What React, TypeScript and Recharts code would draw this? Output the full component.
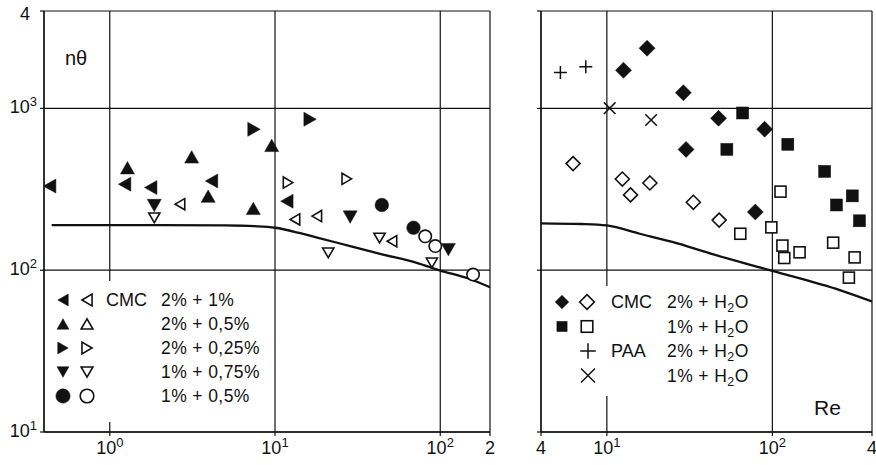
import React from 'react';
import { ScatterChart, Scatter, XAxis, YAxis, CartesianGrid } from 'recharts';

const FONT = '"Liberation Sans", Arial, Helvetica, sans-serif';
const INK = '#111';

// ---------- Left panel data (Re, nθ) ----------
const leftFilledLeft = [{ x: 0.433, y: 331 }, { x: 1.23, y: 340 }, { x: 1.77, y: 324 }, { x: 4.13, y: 356 }, { x: 11.8, y: 267 }];
const leftOpenLeft = [{ x: 2.66, y: 256 }, { x: 13.2, y: 206 }, { x: 17.9, y: 216 }, { x: 51, y: 151 }];
const leftFilledUp = [{ x: 1.28, y: 430 }, { x: 3.13, y: 502 }, { x: 3.94, y: 287 }, { x: 7.39, y: 241 }, { x: 9.55, y: 591 }];
const leftFilledRight = [{ x: 7.46, y: 743 }, { x: 16.3, y: 857 }];
const leftOpenRight = [{ x: 12.0, y: 348 }, { x: 27.2, y: 367 }];
const leftFilledDown = [{ x: 1.86, y: 251 }, { x: 28.5, y: 213 }, { x: 112, y: 134 }];
const leftOpenDown = [{ x: 1.86, y: 211 }, { x: 21, y: 128 }, { x: 42.9, y: 158 }, { x: 89, y: 111 }];
const leftFilledCircle = [{ x: 44.3, y: 253 }, { x: 68.9, y: 183 }];
const leftOpenCircle = [{ x: 81.1, y: 162 }, { x: 93.3, y: 141 }, { x: 158, y: 94 }];
const leftCurve = [
  { x: 0.445, y: 190 }, { x: 2, y: 190 }, { x: 5, y: 189 }, { x: 7.5, y: 187 }, { x: 10, y: 183 },
  { x: 14, y: 170 }, { x: 18, y: 159 }, { x: 28.5, y: 141 }, { x: 45, y: 125 }, { x: 72, y: 111 },
  { x: 100, y: 99.5 }, { x: 145, y: 89.5 }, { x: 200, y: 78.5 },
];

// ---------- Right panel data ----------
const rightFilledDiamond = [{ x: 12.6, y: 1722 }, { x: 17.5, y: 2354 }, { x: 29.0, y: 1250 }, { x: 30.1, y: 558 }, { x: 47.3, y: 869 }, { x: 89.8, y: 744 }, { x: 78.9, y: 229 }];
const rightOpenDiamond = [{ x: 6.25, y: 456 }, { x: 12.4, y: 366 }, { x: 13.9, y: 292 }, { x: 18.2, y: 346 }, { x: 33.3, y: 263 }, { x: 47.7, y: 204 }];
const rightFilledSquare = [{ x: 66.1, y: 937 }, { x: 53.1, y: 558 }, { x: 124, y: 600 }, { x: 207, y: 408 }, { x: 304, y: 288 }, { x: 244, y: 253 }, { x: 336, y: 202 }];
const rightOpenSquare = [{ x: 112, y: 306 }, { x: 98.6, y: 184 }, { x: 64, y: 168 }, { x: 115, y: 142 }, { x: 118, y: 119 }, { x: 146, y: 129 }, { x: 233, y: 148 }, { x: 314, y: 120 }, { x: 290, y: 90 }];
const rightPlus = [{ x: 5.24, y: 1667 }, { x: 7.46, y: 1809 }];
const rightCross = [{ x: 10.4, y: 1003 }, { x: 18.5, y: 848 }];
const rightCurve = [
  { x: 4, y: 195 }, { x: 7, y: 193 }, { x: 10, y: 189 }, { x: 15.8, y: 168 }, { x: 25.2, y: 149 },
  { x: 42, y: 127 }, { x: 100, y: 99 }, { x: 258, y: 75 }, { x: 400, y: 64 },
];

// ---------- Ticks ----------
const yTicks = [10, 100, 1000, 4000];
const yTickLabels = [['10', '1'], ['10', '2'], ['10', '3'], ['4', '']];
const leftXTicks = [1, 10, 100, 200];
const leftXTickLabels = [['10', '0'], ['10', '1'], ['10', '2'], ['2', '']];
const rightXTicks = [4, 10, 100, 400];
const rightXTickLabels = [['4', ''], ['10', '1'], ['10', '2'], ['4', '']];

type Kind = 'left' | 'up' | 'right' | 'down' | 'circle' | 'diamond' | 'square' | 'plus' | 'cross';

function Marker({ cx, cy, kind, filled, scale = 1 }: { cx: number; cy: number; kind: Kind; filled: boolean; scale?: number }) {
  if (cx == null || cy == null || isNaN(cx) || isNaN(cy)) return <g />;
  const fill = filled ? INK : '#fff';
  const sw = 1.6;
  const s = scale;
  if (kind === 'up' || kind === 'down' || kind === 'left' || kind === 'right') {
    const b = (filled ? 7 : 5.6) * s; // half base
    const h = (filled ? 6.2 : 4.8) * s; // half height
    let pts: number[][];
    if (kind === 'up') pts = [[cx, cy - h], [cx - b, cy + h], [cx + b, cy + h]];
    else if (kind === 'down') pts = [[cx, cy + h], [cx - b, cy - h], [cx + b, cy - h]];
    else if (kind === 'left') pts = [[cx - h, cy], [cx + h, cy - b], [cx + h, cy + b]];
    else pts = [[cx + h, cy], [cx - h, cy - b], [cx - h, cy + b]];
    return <polygon points={pts.map((p) => p.join(',')).join(' ')} fill={fill} stroke={INK} strokeWidth={filled ? 0.5 : sw} strokeLinejoin="miter" />;
  }
  if (kind === 'circle') {
    return <circle cx={cx} cy={cy} r={(filled ? 6.8 : 6.2) * s} fill={fill} stroke={INK} strokeWidth={filled ? 0.5 : sw} />;
  }
  if (kind === 'diamond') {
    const d = (filled ? 8 : 7) * s;
    return <polygon points={`${cx},${cy - d} ${cx + d},${cy} ${cx},${cy + d} ${cx - d},${cy}`} fill={fill} stroke={INK} strokeWidth={filled ? 0.5 : sw} />;
  }
  if (kind === 'square') {
    const d = (filled ? 6 : 5.5) * s;
    return <rect x={cx - d} y={cy - d} width={2 * d} height={2 * d} fill={fill} stroke={INK} strokeWidth={filled ? 0.5 : sw} />;
  }
  if (kind === 'plus') {
    const d = 6.5 * s;
    return (
      <g stroke={INK} strokeWidth={1.5}>
        <line x1={cx - d} y1={cy} x2={cx + d} y2={cy} />
        <line x1={cx} y1={cy - d} x2={cx} y2={cy + d} />
      </g>
    );
  }
  const d = 5.8 * s;
  return (
    <g stroke={INK} strokeWidth={1.5}>
      <line x1={cx - d} y1={cy - d} x2={cx + d} y2={cy + d} />
      <line x1={cx - d} y1={cy + d} x2={cx + d} y2={cy - d} />
    </g>
  );
}

const shapeOf = (kind: Kind, filled: boolean) => (p: any) => <Marker cx={p.cx} cy={p.cy} kind={kind} filled={filled} />;

function Label({ x, y, base, exp, anchor }: { x: number; y: number; base: string; exp: string; anchor: 'start' | 'middle' | 'end' }) {
  return (
    <text x={x} y={y} textAnchor={anchor} fontFamily={FONT} fontSize={18} fill={INK}>
      {base}
      {exp ? (
        <tspan dy={-7} fontSize={13}>
          {exp}
        </tspan>
      ) : null}
    </text>
  );
}

const makeXTick = (ticks: number[], labels: string[][]) => (p: any) => {
  const i = ticks.findIndex((t) => Math.abs(t - p.payload.value) < 1e-9 * Math.max(1, t));
  if (i < 0) return <g />;
  return <Label x={p.x} y={p.y + 16} base={labels[i][0]} exp={labels[i][1]} anchor="middle" />;
};

const leftYTick = (p: any) => {
  const i = yTicks.findIndex((t) => Math.abs(t - p.payload.value) < 1e-6 * t);
  if (i < 0) return <g />;
  const [base, exp] = yTickLabels[i];
  const x = exp ? p.x - 1 : p.x - 8;
  const y = exp ? p.y + 5 : p.y + 9;
  return <Label x={x} y={y} base={base} exp={exp} anchor="end" />;
};

const emptyTick = () => <g />;

const axisCommon = {
  tickSize: 4,
  tickLine: { stroke: INK, strokeWidth: 1.2 },
  axisLine: { stroke: INK, strokeWidth: 1.3 },
  interval: 0 as const,
  allowDataOverflow: true,
};

const curveShape = () => <g />;

export default function App() {
  return (
    <div style={{ position: 'absolute', left: 0, top: 0, width: 876, height: 465, background: '#fff', fontFamily: FONT }}>
      <div style={{ position: 'absolute', left: 0, top: 0 }}>
        <ScatterChart width={500} height={465} margin={{ top: 11, right: 10, left: 0, bottom: 0 }}>
          <CartesianGrid stroke={INK} strokeWidth={1.2} />
          <XAxis type="number" dataKey="x" scale="log" domain={[0.4, 200]} ticks={leftXTicks} height={33} tick={makeXTick(leftXTicks, leftXTickLabels)} {...axisCommon} />
          <YAxis type="number" dataKey="y" scale="log" domain={[10, 4000]} ticks={yTicks} width={44} tick={leftYTick} {...axisCommon} />
          <Scatter data={leftCurve} isAnimationActive={false} line={{ stroke: INK, strokeWidth: 2.3 }} lineJointType="monotoneX" shape={curveShape} />
          <Scatter data={leftFilledLeft} isAnimationActive={false} shape={shapeOf('left', true)} />
          <Scatter data={leftOpenLeft} isAnimationActive={false} shape={shapeOf('left', false)} />
          <Scatter data={leftFilledUp} isAnimationActive={false} shape={shapeOf('up', true)} />
          <Scatter data={leftFilledRight} isAnimationActive={false} shape={shapeOf('right', true)} />
          <Scatter data={leftOpenRight} isAnimationActive={false} shape={shapeOf('right', false)} />
          <Scatter data={leftFilledDown} isAnimationActive={false} shape={shapeOf('down', true)} />
          <Scatter data={leftOpenDown} isAnimationActive={false} shape={shapeOf('down', false)} />
          <Scatter data={leftFilledCircle} isAnimationActive={false} shape={shapeOf('circle', true)} />
          <Scatter data={leftOpenCircle} isAnimationActive={false} shape={shapeOf('circle', false)} />
        </ScatterChart>
      </div>
      <div style={{ position: 'absolute', left: 500, top: 0 }}>
        <ScatterChart width={376} height={465} margin={{ top: 11, right: 4, left: 0, bottom: 0 }}>
          <CartesianGrid stroke={INK} strokeWidth={1.2} />
          <XAxis type="number" dataKey="x" scale="log" domain={[4, 400]} ticks={rightXTicks} height={33} tick={makeXTick(rightXTicks, rightXTickLabels)} {...axisCommon} />
          <YAxis type="number" dataKey="y" scale="log" domain={[10, 4000]} ticks={yTicks} width={41} tick={emptyTick} {...axisCommon} />
          <Scatter data={rightCurve} isAnimationActive={false} line={{ stroke: INK, strokeWidth: 2.3 }} lineJointType="monotoneX" shape={curveShape} />
          <Scatter data={rightFilledDiamond} isAnimationActive={false} shape={shapeOf('diamond', true)} />
          <Scatter data={rightOpenDiamond} isAnimationActive={false} shape={shapeOf('diamond', false)} />
          <Scatter data={rightFilledSquare} isAnimationActive={false} shape={shapeOf('square', true)} />
          <Scatter data={rightOpenSquare} isAnimationActive={false} shape={shapeOf('square', false)} />
          <Scatter data={rightPlus} isAnimationActive={false} shape={shapeOf('plus', true)} />
          <Scatter data={rightCross} isAnimationActive={false} shape={shapeOf('cross', true)} />
        </ScatterChart>
      </div>
      <svg width={876} height={465} style={{ position: 'absolute', left: 0, top: 0, pointerEvents: 'none' }}>
        <text x={65} y={65} fontFamily={FONT} fontSize={20} fill={INK}>nθ</text>
        <text x={814} y={415} fontFamily={FONT} fontSize={21} fill={INK}>Re</text>

        {/* left legend */}
        <rect x={49} y={281} width={219} height={141} fill="#fff" />
        {[
          ['left', 'CMC', '2% + 1%'],
          ['up', '', '2% + 0,5%'],
          ['right', '', '2% + 0,25%'],
          ['down', '', '1% + 0,75%'],
          ['circle', '', '1% + 0,5%'],
        ].map((r, i) => {
          const cy = 300 + i * 24;
          return (
            <g key={i}>
              <Marker cx={63} cy={cy} kind={r[0] as Kind} filled={true} scale={r[0] === 'circle' ? 1.05 : 0.85} />
              <Marker cx={87} cy={cy} kind={r[0] as Kind} filled={false} scale={r[0] === 'circle' ? 1.1 : 1.05} />
              {r[1] ? <text x={106} y={cy + 6} fontFamily={FONT} fontSize={18} fill={INK}>{r[1]}</text> : null}
              <text x={161} y={cy + 6} fontFamily={FONT} fontSize={17.5} letterSpacing={0.4} fill={INK}>{r[2]}</text>
            </g>
          );
        })}

        {/* right legend */}
        <rect x={547} y={286} width={215} height={110} fill="#fff" />
        {[
          ['diamond', true, true, 'CMC', '2%'],
          ['square', true, true, '', '1%'],
          ['plus', false, false, 'PAA', '2%'],
          ['cross', false, false, '', '1%'],
        ].map((r, i) => {
          const cy = 302 + i * 24.5;
          return (
            <g key={i}>
              {r[1] ? <Marker cx={562} cy={cy} kind={r[0] as Kind} filled={true} scale={0.85} /> : null}
              {r[2] ? (
                <Marker cx={587} cy={cy} kind={r[0] as Kind} filled={false} scale={1.05} />
              ) : (
                <Marker cx={588} cy={cy} kind={r[0] as Kind} filled={true} scale={1.2} />
              )}
              {r[3] ? <text x={611} y={cy + 6} fontFamily={FONT} fontSize={18} fill={INK}>{r[3] as string}</text> : null}
              <text x={667} y={cy + 6} fontFamily={FONT} fontSize={17.5} letterSpacing={0.4} fill={INK}>
                {(r[4] as string) + ' + H'}
                <tspan dy={4} fontSize={12.5}>2</tspan>
                <tspan dy={-4}>O</tspan>
              </text>
            </g>
          );
        })}
      </svg>
    </div>
  );
}
